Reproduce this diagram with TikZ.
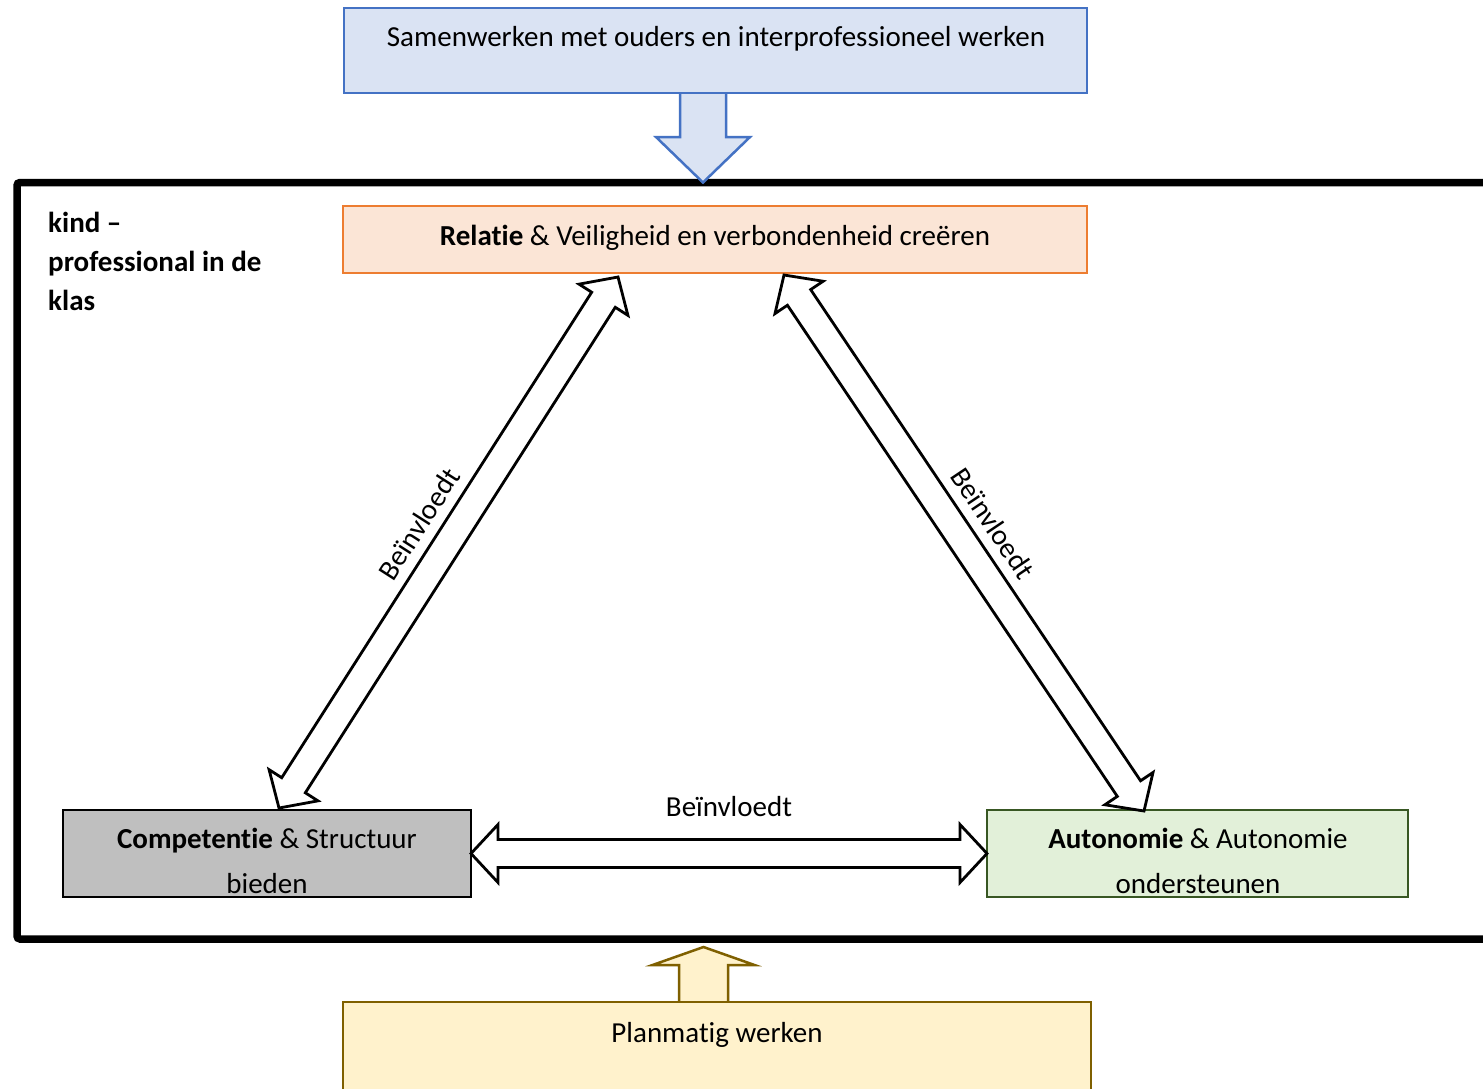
\documentclass[tikz,border=0pt]{standalone}
\usepackage{fontspec}
\setmainfont{Carlito}[Ligatures={NoCommon}]
\usetikzlibrary{calc}
\definecolor{topfill}{HTML}{DAE3F3}
\definecolor{topdraw}{HTML}{4472C4}
\definecolor{relfill}{HTML}{FBE5D6}
\definecolor{reldraw}{HTML}{ED7D31}
\definecolor{compfill}{HTML}{BFBFBF}
\definecolor{autfill}{HTML}{E2F0D9}
\definecolor{autdraw}{HTML}{385723}
\definecolor{planfill}{HTML}{FFF2CC}
\definecolor{plandraw}{HTML}{7F6000}
\tikzset{
  txt/.style={font=\fontsize{29}{39}\selectfont, inner sep=0pt, anchor=base},
  boxstyle/.style={draw, line width=2pt, anchor=north west, inner sep=0pt, outer sep=0pt},
  blockarrow/.style={draw=black, line width=2.8pt, fill=white, line join=miter},
}
\newcommand\dblarrow[2]{%
  \coordinate (h1) at ($(#1)!27pt!(#2)$);
  \coordinate (h2) at ($(#2)!27pt!(#1)$);
  \draw[blockarrow] (#1) -- ($(h1)!29pt!-90:(#2)$) -- ($(h1)!14pt!-90:(#2)$)
    -- ($(h2)!14pt!90:(#1)$) -- ($(h2)!29pt!90:(#1)$) -- (#2)
    -- ($(h2)!29pt!-90:(#1)$) -- ($(h2)!14pt!-90:(#1)$)
    -- ($(h1)!14pt!90:(#2)$) -- ($(h1)!29pt!90:(#2)$) -- cycle;}
\begin{document}
\begin{tikzpicture}[x=1pt,y=-1pt]
\clip (0,0) rectangle (1483,1088);
\fill[white] (0,0) rectangle (1483,1088);

% outer frame
\node[draw, line width=7.5pt, rounded corners=3pt, anchor=north west, inner sep=0pt, outer sep=0pt,
      minimum width=1503pt, minimum height=756.5pt] (frame) at (17,182.5) {};

% top box and arrow
\node[boxstyle, fill=topfill, draw=topdraw, minimum width=743pt, minimum height=85pt] (top) at (344,8) {};
\coordinate (ta) at ([xshift=-12.5pt]top.south);
\coordinate (ttip) at (ta |- frame.north);
\filldraw[fill=topfill, draw=topdraw, line width=2.5pt, line join=miter]
  ($(ta)+(-23,0)$) -- ($(ta)+(-23,44)$) -- ($(ta)+(-47,44)$) -- (ttip)
  -- ($(ta)+(47,44)$) -- ($(ta)+(23,44)$) -- ($(ta)+(23,0)$);
\draw[topdraw, line width=2pt] (top.south west) -- (top.south east);
\node[txt] (toptxt) at (716,46) {Samenwerken met ouders en interprofessioneel werken};

% relatie box
\node[boxstyle, fill=relfill, draw=reldraw, minimum width=744pt, minimum height=67pt] (rel) at (343,206) {};
\node[txt] (reltxt) at (715,245) {\textbf{Relatie} \& Veiligheid en verbondenheid creëren};

% competentie box
\node[boxstyle, fill=compfill, draw=black, minimum width=408pt, minimum height=87pt] (comp) at (63,810) {};
\node[txt] (comptxt1) at (267,848) {\textbf{Competentie} \& Structuur};
\node[txt] (comptxt2) at (267,893) {bieden};

% autonomie box
\node[boxstyle, fill=autfill, draw=autdraw, minimum width=421pt, minimum height=87pt] (aut) at (987,810) {};
\node[txt] (auttxt1) at (1198,848) {\textbf{Autonomie} \& Autonomie};
\node[txt] (auttxt2) at (1198,893) {ondersteunen};

% label in frame
\node[txt, anchor=base west] (k1) at (48,232) {\textbf{kind –}};
\node[txt, anchor=base west] (k2) at (48,271) {\textbf{professional in de}};
\node[txt, anchor=base west] (k3) at (48,310) {\textbf{klas}};

% planmatig box and arrow
\node[boxstyle, fill=planfill, draw=plandraw, minimum width=748pt, minimum height=120pt] (plan) at (343,1002) {};
\coordinate (ba) at ([xshift=-13.5pt]plan.north);
\filldraw[fill=planfill, draw=plandraw, line width=2.5pt, line join=miter]
  ($(ba)+(-24.5,0)$) -- ($(ba)+(-24.5,-37)$) -- ($(ba)+(-51,-37)$) -- ($(ba)+(0,-55)$)
  -- ($(ba)+(51,-37)$) -- ($(ba)+(24.5,-37)$) -- ($(ba)+(24.5,0)$);
\draw[plandraw, line width=2pt] (plan.north west) -- (plan.north east);
\node[txt] (plantxt) at (717,1042) {Planmatig werken};

% double block arrows
\coordinate (A) at ([xshift=12pt,yshift=2pt]comp.north);
\coordinate (B) at ([xshift=-97pt,yshift=-4pt]rel.south);
\coordinate (C) at ([xshift=69pt,yshift=-2pt]rel.south);
\coordinate (D) at ([xshift=-53.5pt,yshift=-1pt]aut.north);
\dblarrow{A}{B}
\dblarrow{C}{D}
\dblarrow{comp.east}{aut.west}

% labels
\coordinate (lm) at ($(A)!0.5!(B)$);
\coordinate (rm) at ($(C)!0.5!(D)$);
\node[txt, anchor=center, rotate=57.4] (lbl1) at ($(lm)!35pt!90:(B)$) {Beïnvloedt};
\node[txt, anchor=center, rotate=-56.1] (lbl2) at ($(rm)!35pt!90:(D)$) {Beïnvloedt};
\node[txt] (lbl3) at (729,816) {Beïnvloedt};
\end{tikzpicture}
\end{document}
